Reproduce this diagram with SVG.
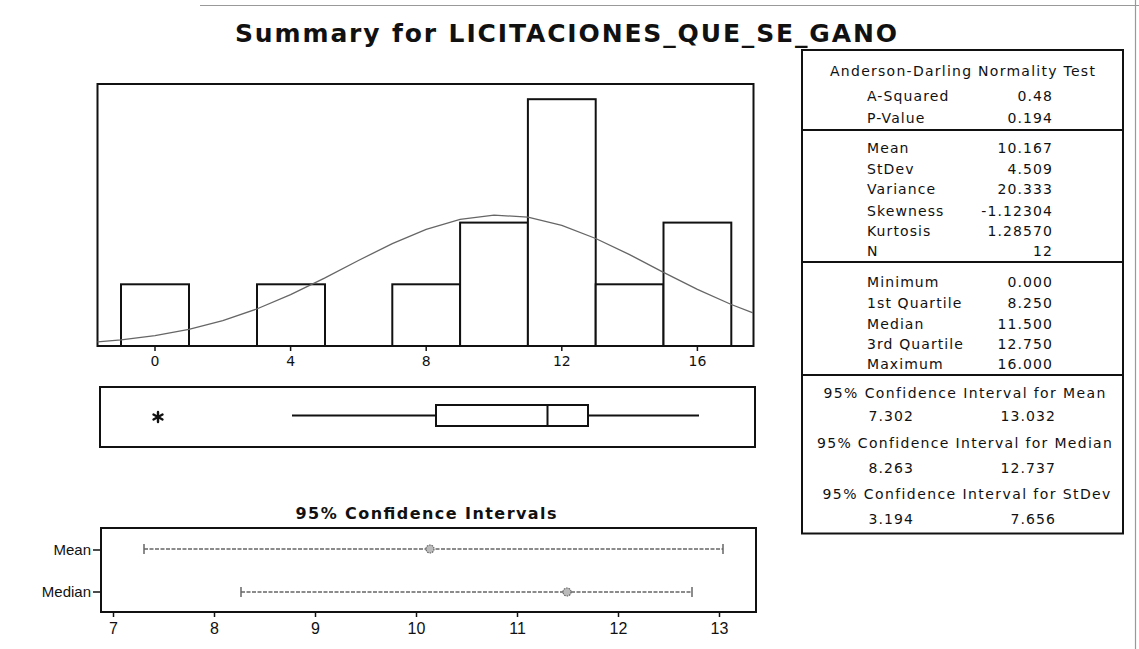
<svg xmlns="http://www.w3.org/2000/svg" width="1139" height="649" viewBox="0 0 1139 649">
<style>
.frame{fill:none;stroke:#111;stroke-width:2}
.bar{fill:#fff;stroke:#111;stroke-width:2}
.tick{stroke:#111;stroke-width:1.5}
.curve{fill:none;stroke:#666;stroke-width:1.3}
.ax{font-family:"DejaVu Sans",sans-serif;font-size:14px;fill:#111;text-anchor:middle}
.ax2{font-family:"Liberation Sans",Arial,sans-serif;font-size:16px;fill:#111;text-anchor:middle}
.lab{font-family:"Liberation Sans",Arial,sans-serif;font-size:15px;fill:#111;text-anchor:end}
.st{font-family:"DejaVu Sans",sans-serif;font-size:14px;fill:#111;letter-spacing:1.1px}
.stv{font-family:"DejaVu Sans",sans-serif;font-size:14px;fill:#111;letter-spacing:1.1px;text-anchor:end}
.stc{font-family:"DejaVu Sans",sans-serif;font-size:14px;fill:#111;letter-spacing:1.1px;text-anchor:middle}
.ci{stroke:#666;stroke-width:1.6;stroke-dasharray:4 1.5}
.cie{stroke:#666;stroke-width:1.5}
.pt{fill:#bbb;stroke:#666;stroke-width:1.2;stroke-dasharray:1.5 1}
</style>
<g id="page-border" stroke="#999" stroke-width="1.2">
<line x1="200" y1="5.5" x2="1139" y2="5.5"/>
<line x1="1135.5" y1="0" x2="1135.5" y2="649"/>
</g>
<g id="title">
<text x="235" y="42" font-family="DejaVu Sans, sans-serif" font-size="25" font-weight="bold" fill="#111" textLength="662" lengthAdjust="spacing">Summary for LICITACIONES_QUE_SE_GANO</text>
</g>
<g id="histogram">
<rect class="frame" x="97.5" y="84" width="656" height="262"/>
<rect class="bar" x="121" y="284.3" width="68" height="61.7"/>
<rect class="bar" x="257" y="284.3" width="68" height="61.7"/>
<rect class="bar" x="392.3" y="284.3" width="67.8" height="61.7"/>
<rect class="bar" x="460.1" y="222.6" width="67.8" height="123.4"/>
<rect class="bar" x="527.9" y="99.2" width="67.8" height="246.8"/>
<rect class="bar" x="595.7" y="284.3" width="67.8" height="61.7"/>
<rect class="bar" x="663.5" y="222.6" width="67.8" height="123.4"/>
<polyline class="curve" points="97.5,341.9 121.1,339.9 155,335.7 188.9,329.4 222.8,320.6 256.7,309 290.6,294.6 324.5,278.1 358.4,260.5 392.3,243.6 426.2,229.3 460.1,219.3 494,215.1 527.9,217.2 561.8,225.4 595.7,238.5 629.6,254.7 663.5,272.3 697.4,289.3 731.3,304.5 753,312.8"/>
<g class="tick">
<line x1="155" y1="346" x2="155" y2="351"/>
<line x1="290.6" y1="346" x2="290.6" y2="351"/>
<line x1="426.2" y1="346" x2="426.2" y2="351"/>
<line x1="561.8" y1="346" x2="561.8" y2="351"/>
<line x1="697.4" y1="346" x2="697.4" y2="351"/>
</g>
<text class="ax" x="155" y="366">0</text>
<text class="ax" x="290.6" y="366">4</text>
<text class="ax" x="426.2" y="366">8</text>
<text class="ax" x="561.8" y="366">12</text>
<text class="ax" x="697.4" y="366">16</text>
</g>
<g id="boxplot">
<rect class="frame" x="100" y="387" width="655" height="60"/>
<line x1="292" y1="415.5" x2="436" y2="415.5" stroke="#111" stroke-width="2"/>
<line x1="588" y1="415.5" x2="699" y2="415.5" stroke="#111" stroke-width="2"/>
<rect x="436" y="405" width="152" height="21" fill="#fff" stroke="#111" stroke-width="2"/>
<line x1="547.5" y1="405" x2="547.5" y2="426" stroke="#111" stroke-width="2"/>
<g id="outlier" stroke="#111" stroke-width="2.4" stroke-linecap="round">
<line x1="158" y1="412" x2="158" y2="422"/>
<line x1="153.5" y1="414.5" x2="162.5" y2="419.5"/>
<line x1="153.5" y1="419.5" x2="162.5" y2="414.5"/>
</g>
</g>
<g id="ci-plot">
<text x="426" y="519" font-family="DejaVu Sans, sans-serif" font-size="16" font-weight="bold" fill="#111" text-anchor="middle" textLength="261" lengthAdjust="spacing">95% Confidence Intervals</text>
<rect class="frame" x="101" y="528" width="655" height="84"/>
<line class="tick" x1="93" y1="550" x2="101" y2="550"/>
<line class="tick" x1="93" y1="592" x2="101" y2="592"/>
<text class="lab" x="91" y="555">Mean</text>
<text class="lab" x="91" y="597">Median</text>
<line class="ci" x1="144" y1="549" x2="723" y2="549"/>
<line class="cie" x1="144" y1="544" x2="144" y2="554"/>
<line class="cie" x1="723" y1="544" x2="723" y2="554"/>
<circle class="pt" cx="430" cy="549" r="4"/>
<line class="ci" x1="241" y1="592" x2="692" y2="592"/>
<line class="cie" x1="241" y1="587" x2="241" y2="597"/>
<line class="cie" x1="692" y1="587" x2="692" y2="597"/>
<circle class="pt" cx="567" cy="592" r="4"/>
<g class="tick">
<line x1="113.5" y1="612" x2="113.5" y2="617"/>
<line x1="214.5" y1="612" x2="214.5" y2="617"/>
<line x1="315.5" y1="612" x2="315.5" y2="617"/>
<line x1="416.5" y1="612" x2="416.5" y2="617"/>
<line x1="517.5" y1="612" x2="517.5" y2="617"/>
<line x1="618.5" y1="612" x2="618.5" y2="617"/>
<line x1="719.5" y1="612" x2="719.5" y2="617"/>
</g>
<text class="ax2" x="113.5" y="634">7</text>
<text class="ax2" x="214.5" y="634">8</text>
<text class="ax2" x="315.5" y="634">9</text>
<text class="ax2" x="416.5" y="634">10</text>
<text class="ax2" x="517.5" y="634">11</text>
<text class="ax2" x="618.5" y="634">12</text>
<text class="ax2" x="719.5" y="634">13</text>
</g>
<g id="stats-panel">
<rect class="frame" x="802" y="50" width="321" height="483.5" stroke-width="1.8"/>
<line x1="802" y1="130" x2="1123" y2="130" stroke="#111" stroke-width="1.8"/>
<line x1="802" y1="262" x2="1123" y2="262" stroke="#111" stroke-width="1.8"/>
<line x1="802" y1="375" x2="1123" y2="375" stroke="#111" stroke-width="1.8"/>
<text class="stc" x="963" y="76" textLength="266" lengthAdjust="spacing">Anderson-Darling Normality Test</text>
<text class="st" x="867" y="101">A-Squared</text><text class="stv" x="1053" y="101">0.48</text>
<text class="st" x="867" y="123">P-Value</text><text class="stv" x="1053" y="123">0.194</text>
<text class="st" x="867" y="153">Mean</text><text class="stv" x="1053" y="153">10.167</text>
<text class="st" x="867" y="174">StDev</text><text class="stv" x="1053" y="174">4.509</text>
<text class="st" x="867" y="194">Variance</text><text class="stv" x="1053" y="194">20.333</text>
<text class="st" x="867" y="216">Skewness</text><text class="stv" x="1053" y="216">-1.12304</text>
<text class="st" x="867" y="236">Kurtosis</text><text class="stv" x="1053" y="236">1.28570</text>
<text class="st" x="867" y="256">N</text><text class="stv" x="1053" y="256">12</text>
<text class="st" x="867" y="287">Minimum</text><text class="stv" x="1053" y="287">0.000</text>
<text class="st" x="867" y="308">1st Quartile</text><text class="stv" x="1053" y="308">8.250</text>
<text class="st" x="867" y="329">Median</text><text class="stv" x="1053" y="329">11.500</text>
<text class="st" x="867" y="349">3rd Quartile</text><text class="stv" x="1053" y="349">12.750</text>
<text class="st" x="867" y="369">Maximum</text><text class="stv" x="1053" y="369">16.000</text>
<text class="stc" x="965" y="398" textLength="283" lengthAdjust="spacing">95% Confidence Interval for Mean</text>
<text class="stv" x="914" y="421">7.302</text><text class="stv" x="1056" y="421">13.032</text>
<text class="stc" x="965" y="448" textLength="296" lengthAdjust="spacing">95% Confidence Interval for Median</text>
<text class="stv" x="914" y="473">8.263</text><text class="stv" x="1056" y="473">12.737</text>
<text class="stc" x="967" y="499" textLength="289" lengthAdjust="spacing">95% Confidence Interval for StDev</text>
<text class="stv" x="914" y="524">3.194</text><text class="stv" x="1056" y="524">7.656</text>
</g>
</svg>
